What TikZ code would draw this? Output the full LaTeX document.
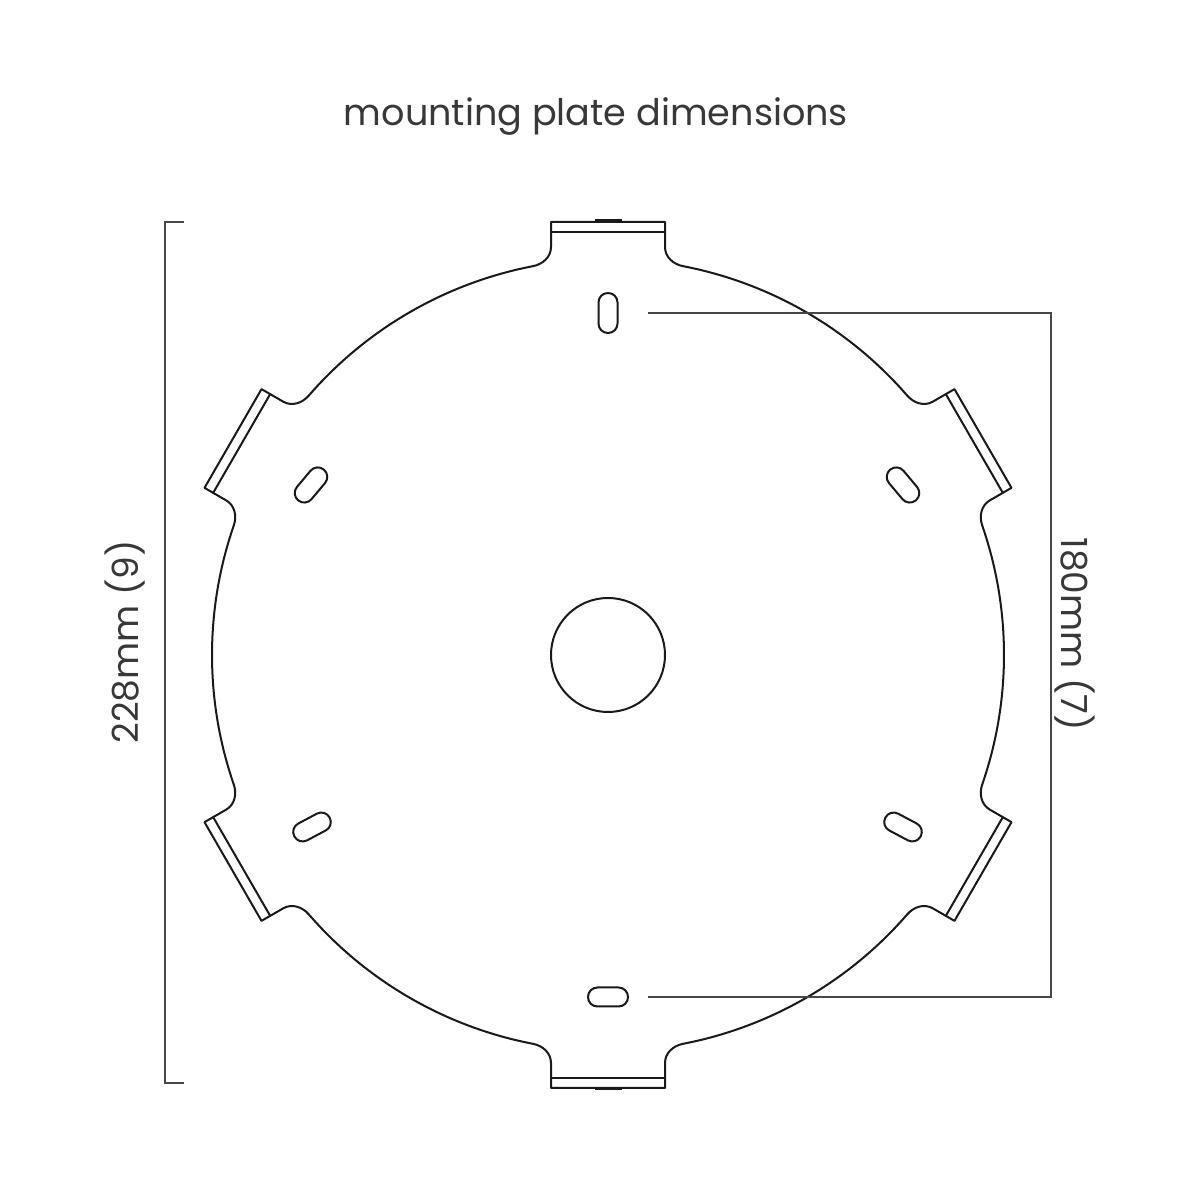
\documentclass[tikz,border=0pt]{standalone}
\usepackage{fontspec}
\setmainfont{Poppins}
\begin{document}
\begin{tikzpicture}[x=1pt,y=1pt,
  plate/.style={draw=black!90, line width=2pt, line join=round, line cap=round},
  dimline/.style={draw=black!72, line width=1.8pt, line join=miter},
  lbl/.style={text=black!78, font=\fontsize{36}{40}\selectfont, inner sep=0pt}]
\useasboundingbox (0,0) rectangle (1200,1200);
\fill[white] (0,0) rectangle (1200,1200);
\coordinate (C) at (608,545);
% title
\node[lbl, font=\fontsize{36.6}{40}\selectfont] (title) at (596,1083) {mounting plate dimensions};
% plate outline
\begin{scope}[shift={(C)}]
  \foreach \p in {90,150,...,390} {
    \begin{scope}[rotate=\p-90]
      \draw[plate] (75,388.83) .. controls (65.2,390.7) and (57,398) .. (57,408)
        -- (57,433) -- (-57,433) -- (-57,408)
        .. controls (-57,398) and (-65.2,390.7) .. (-75,388.83);
      \draw[plate] (-57,423) -- (57,423);
    \end{scope}
    \draw[plate] (\p+10.92:396) arc[start angle=\p+10.92, end angle=\p+49.08, radius=396];
  }
\end{scope}
% tab top highlights
\draw[black!90, line width=3pt] (595,979) -- (622,979);
\draw[black!90, line width=3pt] (595,111) -- (622,111);
% centre hole
\draw[plate] (C) circle[radius=57];
% slots
\foreach \sx/\sy/\a in {608/887/90, 608/203/0, 311/715/50, 312/373/28, 903/373/-28, 903/715/-50} {
  \draw[plate, shift={(\sx,\sy)}, rotate=\a, rounded corners=9.4pt] (-20,-9.5) rectangle (20,9.5);
}
% dimension lines
\coordinate (L1) at (184,978);
\coordinate (L2) at (165,978);
\coordinate (L3) at (165,117);
\coordinate (L4) at (184,117);
\draw[dimline] (L1) -- (L2) -- (L3) -- (L4);
\coordinate (R1) at (648,887);
\coordinate (R2) at (1051,887);
\coordinate (R3) at (1051,203);
\coordinate (R4) at (648,203);
\draw[dimline] (R1) -- (R2) -- (R3) -- (R4);
\node[lbl, rotate=90] (dimL) at (125,558) {228mm (9)};
\node[lbl, rotate=-90] (dimR) at (1075,566) {180mm (7)};
\end{tikzpicture}
\end{document}
